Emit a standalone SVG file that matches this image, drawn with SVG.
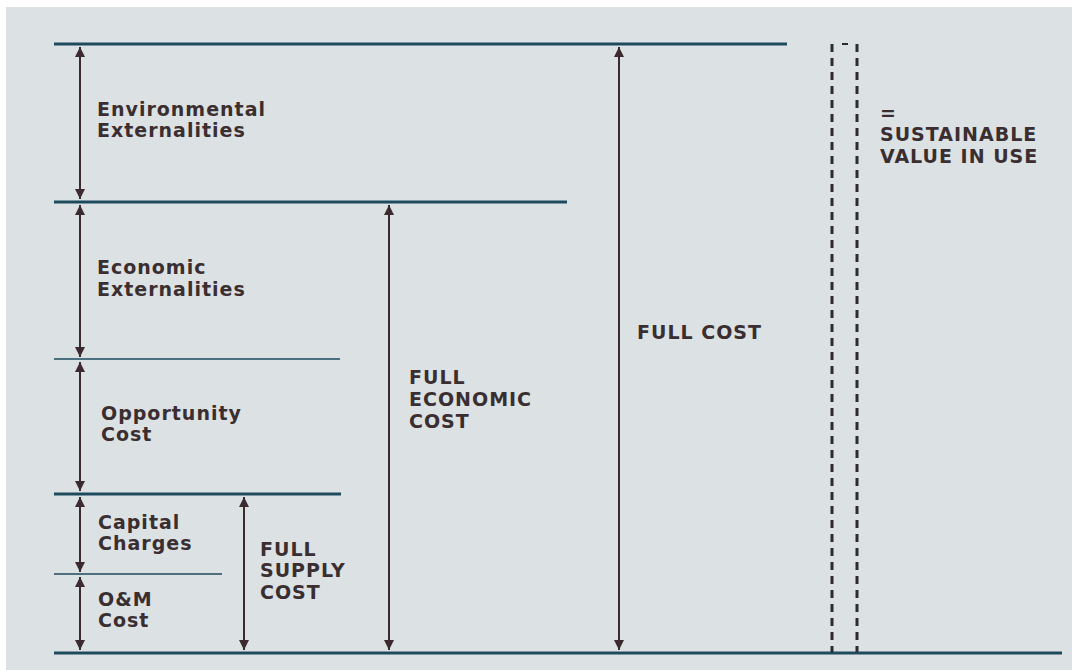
<svg xmlns="http://www.w3.org/2000/svg" width="1072" height="670" viewBox="0 0 1072 670">
<defs>
<marker id="ah" viewBox="0 0 10 10" refX="10" refY="5" markerWidth="5" markerHeight="5" markerUnits="strokeWidth" orient="auto-start-reverse">
<path d="M0,0 L10,5 L0,10 z" fill="#3b2a2e"/>
</marker>
<style>
.lvl{stroke:#1e4a5e;stroke-width:3;fill:none}
.thin{stroke:#1e4a5e;stroke-width:1.6;fill:none}
.arr{stroke:#3b2a2e;stroke-width:2;fill:none;marker-start:url(#ah);marker-end:url(#ah)}
.dash{stroke:#2e2a2e;stroke-width:3;stroke-dasharray:8,6;fill:none}
text{font-family:"DejaVu Sans","Open Sans",sans-serif;font-weight:bold;font-size:19px;letter-spacing:1px;fill:#3a2e30}
</style>
</defs>
<rect x="0" y="0" width="1072" height="670" fill="#ffffff"/>
<rect x="6" y="7" width="1066" height="663" fill="#dce1e4"/>
<g id="levels">
<line class="lvl" x1="54" y1="44" x2="787" y2="44"/>
<line class="lvl" x1="54" y1="202" x2="567" y2="202"/>
<line class="thin" x1="54" y1="359" x2="340" y2="359"/>
<line class="lvl" x1="54" y1="494" x2="341" y2="494"/>
<line class="thin" x1="54" y1="574" x2="222" y2="574"/>
<line class="lvl" x1="54" y1="653" x2="1062" y2="653"/>
</g>
<g id="connectors">
<line class="arr" x1="80" y1="47" x2="80" y2="199"/>
<line class="arr" x1="80" y1="205" x2="80" y2="357"/>
<line class="arr" x1="80" y1="362" x2="80" y2="491"/>
<line class="arr" x1="80" y1="497" x2="80" y2="572"/>
<line class="arr" x1="80" y1="577" x2="80" y2="650"/>
<line class="arr" x1="244" y1="497" x2="244" y2="650"/>
<line class="arr" x1="389" y1="205" x2="389" y2="650"/>
<line class="arr" x1="619" y1="47" x2="619" y2="650"/>
</g>
<g id="sustainable-box">
<line class="dash" x1="832" y1="44" x2="832" y2="652"/>
<line class="dash" x1="857" y1="44" x2="857" y2="652"/>
<line stroke="#2e2a2e" stroke-width="2" x1="842" y1="44" x2="848" y2="44"/>
</g>
<g id="environmental"><text x="97" y="116">Environmental</text><text x="97" y="137">Externalities</text></g>
<g id="economic"><text x="97" y="274">Economic</text><text x="97" y="296">Externalities</text></g>
<g id="opportunity"><text x="101" y="420">Opportunity</text><text x="101" y="441">Cost</text></g>
<g id="capital"><text x="98" y="529">Capital</text><text x="98" y="550">Charges</text></g>
<g id="om"><text x="98" y="606">O&amp;M</text><text x="98" y="627">Cost</text></g>
<g id="full-supply"><text x="260" y="556">FULL</text><text x="260" y="577">SUPPLY</text><text x="260" y="599">COST</text></g>
<g id="full-economic"><text x="409" y="384">FULL</text><text x="409" y="406">ECONOMIC</text><text x="409" y="428">COST</text></g>
<g id="full-cost"><text x="637" y="339">FULL COST</text></g>
<g id="sustainable"><text x="880" y="120">=</text><text x="880" y="141">SUSTAINABLE</text><text x="880" y="163">VALUE IN USE</text></g>
</svg>
